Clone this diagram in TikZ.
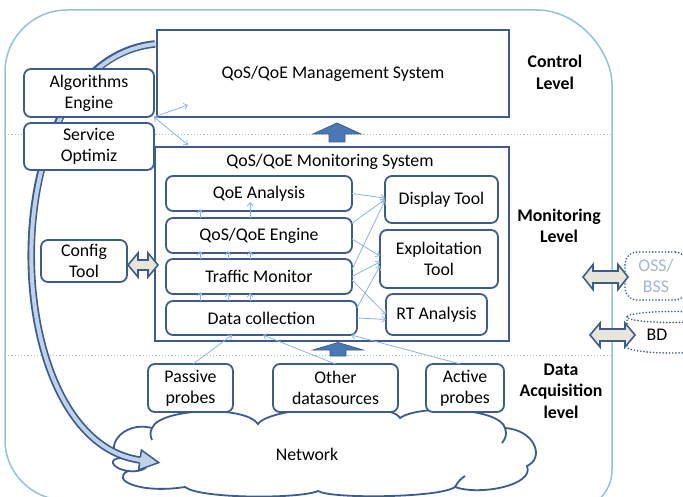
\documentclass[tikz,border=0pt]{standalone}
\usepackage{fontspec}
\setmainfont{Carlito}
\usetikzlibrary{arrows.meta,calc}
\definecolor{dblue}{HTML}{3D5C8C}
\definecolor{frameblue}{HTML}{93C3D3}
\definecolor{dotblue}{HTML}{A9C1DC}
\definecolor{thinblue}{HTML}{8DB3E2}
\definecolor{lightfill}{HTML}{BED3E8}
\definecolor{blockfill}{HTML}{4A78B5}
\definecolor{beige}{HTML}{E8E5DB}
\definecolor{greytext}{HTML}{A3B5D3}
\newcommand{\DblArr}[4]{%
  \draw[dblarr] (#1) -- ($(#1)+(10,-#3)$) -- ($(#1)+(10,-#4)$) -- ($(#2)+(-10,-#4)$) -- ($(#2)+(-10,-#3)$) -- (#2) -- ($(#2)+(-10,#3)$) -- ($(#2)+(-10,#4)$) -- ($(#1)+(10,#4)$) -- ($(#1)+(10,#3)$) -- cycle;}
\begin{document}
\begin{tikzpicture}[x=1pt,y=-1pt,
  every node/.style={font=\fontsize{17.8}{21}\selectfont, inner sep=0pt, outer sep=0pt},
  sqbox/.style={draw=dblue, line width=1.8pt, fill=white},
  rbox/.style={draw=dblue, line width=1.8pt, fill=white, rounded corners=7pt, align=center},
  lvl/.style={font=\fontsize{17.8}{21.5}\selectfont\bfseries, align=center},
  thinarr/.style={draw=thinblue, line width=0.8pt, -{Straight Barb[length=3.5pt,width=6pt]}},
  thinarrb/.style={draw=thinblue, line width=0.8pt, {Straight Barb[length=3.5pt,width=6pt]}-{Straight Barb[length=3.5pt,width=6pt]}},
  dblarr/.style={draw=dblue, line width=1.6pt, fill=beige, line join=miter},
  blockarr/.style={draw=dblue, line width=0.8pt, fill=blockfill},
  levelline/.style={draw=dotblue, line width=1pt, dash pattern=on 1.2pt off 2pt},
  dotborder/.style={draw=dblue, line width=1.8pt, line cap=round, dash pattern=on 0pt off 3.2pt},
  cloudline/.style={draw=dblue, line width=1.8pt}
]
\useasboundingbox (0,0) rectangle (683,497);
% outer frame
\draw[frameblue, line width=1.5pt] (67,10) -- (537,10) .. controls (578.4,10) and (612,51.4) .. (612,85)
  -- (612,470) .. controls (612,492) and (594,510) .. (572,510)
  -- (65,500) .. controls (31.9,500) and (5,473) .. (5,440)
  -- (5,72) .. controls (5,37.8) and (32.8,10) .. (67,10) -- cycle;
% level separators
\draw[levelline] (5,135) -- (612,135);
\draw[levelline] (5,355) -- (612,355);
% network cloud
\draw[cloudline, fill=white] (122,458) .. controls (102,450) and (122,420) .. (152,428)
  .. controls (160,408) and (245,405) .. (258,424)
  .. controls (270,406) and (390,400) .. (400,418)
  .. controls (420,404) and (500,408) .. (505,428)
  .. controls (535,430) and (545,458) .. (527,466)
  .. controls (535,485) and (480,496) .. (455,487)
  .. controls (440,498) and (330,499) .. (318,491)
  .. controls (300,499) and (200,499) .. (185,487)
  .. controls (140,494) and (110,480) .. (128,471)
  .. controls (110,468) and (108,458) .. (122,458) -- cycle;
\draw[cloudline] (152,428) .. controls (150,432) and (150,436) .. (152,440);
\draw[cloudline] (505,428) .. controls (507,434) and (506,438) .. (502,443);
\draw[cloudline] (455,487) .. controls (458,482) and (460,479) .. (465,476);
\draw[cloudline] (128,471) .. controls (135,472) and (140,471) .. (146,468);
\node (nettext) at (307,454) {Network};
% curved arrow from management to network
\draw[dblue, line width=7.5pt] (155,44) .. controls (-10,60) and (-5,440) .. (140,460);
\draw[lightfill, line width=4pt] (156,44) .. controls (-10,60) and (-5,440) .. (140,460);
\fill[lightfill] (140.5,456.5) -- (141.4,450.1) -- (158.8,462.6) -- (138.6,469.9) -- (139.5,463.5) -- cycle;
\draw[dblue, line width=1.5pt, line join=miter] (140.4,457.3) -- (141.4,450.1) -- (158.8,462.6) -- (138.6,469.9) -- (139.6,462.7);
% main boxes
\node[sqbox, minimum width=352, minimum height=87] (mgmt) at (333,73.5) {QoS/QoE Management System};
\node[sqbox, minimum width=354, minimum height=194] (mon) at (332,244) {};
\node (montitle) at (330,162) {QoS/QoE Monitoring System};
% left boxes
\node[rbox, minimum width=130, minimum height=48] (algo) at (89,93) {Algorithms\\Engine};
\node[rbox, minimum width=130, minimum height=47] (serv) at (89,146.5) {Service\\Optimiz};
\node[rbox, minimum width=86, minimum height=42] (config) at (84,261) {Config\\Tool};
% monitoring inner boxes
\node[rbox, minimum width=186, minimum height=35] (qoea) at (259,193.5) {QoE Analysis};
\node[rbox, minimum width=186, minimum height=35] (eng) at (259,235.5) {QoS/QoE Engine};
\node[rbox, minimum width=186, minimum height=35] (traf) at (259,276.5) {Traffic Monitor};
\node[rbox, minimum width=191, minimum height=34] (datac) at (261.5,318) {Data collection};
\node[rbox, minimum width=113, minimum height=47] (disp) at (441.5,199.5) {Display Tool};
\node[rbox, minimum width=118, minimum height=58] (expl) at (439,259) {Exploitation\\Tool};
\node[rbox, minimum width=101, minimum height=41] (rt) at (436.5,314.5) {RT Analysis};
% probes
\node[rbox, minimum width=85, minimum height=48] (passive) at (190.5,388) {Passive\\probes};
\node[rbox, minimum width=125, minimum height=48] (other) at (335.5,388) {Other\\datasources};
\node[rbox, minimum width=78, minimum height=48] (active) at (465,388) {Active\\probes};
% level labels
\node[lvl] (lctrl) at (555,72.5) {Control\\Level};
\node[lvl] (lmon) at (559,226) {Monitoring\\Level};
\node[lvl] (lacq) at (561,391) {Data\\Acquisition\\level};
% external systems
\node[dotborder, rounded corners=12pt, minimum width=62, minimum height=48, text=greytext, align=center] (oss) at (656,276) {OSS/\\BSS};
\draw[dotborder] (672,317) ellipse [x radius=45, y radius=5.5];
\draw[dotborder] (627,317) -- (627,347) .. controls (627,350.3) and (647.2,353) .. (672,353) .. controls (696.8,353) and (717,350.3) .. (717,347) -- (717,317);
\node (bd) at (657,335) {BD};
% thin arrows: control level
\draw[thinarr] (algo.south east) -- ($(mgmt.south west)+(31,-12)$);
\draw[thinarrb] (algo.south east) -- ($(mon.north west)+(33,-2)$);
% vertical arrows inside monitoring system
\coordinate (w1) at ($(qoea.south west)!0.183!(qoea.south east)$);
\coordinate (w3) at ($(qoea.south west)!0.452!(qoea.south east)$);
\coordinate (u1) at ($(eng.south west)!0.183!(eng.south east)$);
\coordinate (u2) at ($(eng.south west)!0.333!(eng.south east)$);
\coordinate (u3) at ($(eng.south west)!0.452!(eng.south east)$);
\coordinate (v1) at ($(traf.south west)!0.183!(traf.south east)$);
\coordinate (v2) at ($(traf.south west)!0.333!(traf.south east)$);
\coordinate (v3) at ($(traf.south west)!0.452!(traf.south east)$);
\draw[thinarr] (w1 |- eng.north) -- ($(w1)+(0,-2)$);
\draw[thinarr] (w3 |- eng.north) -- ($(w3)+(0,-9)$);
\draw[thinarr] (u1 |- traf.north) -- ($(u1)+(0,-2)$);
\draw[thinarr] (u2 |- traf.north) -- ($(u2)+(0,-2)$);
\draw[thinarr] (u3 |- traf.north) -- ($(u3)+(0,-2)$);
\draw[thinarr] (v1 |- datac.north) -- ($(v1)+(0,-2)$);
\draw[thinarr] (v2 |- datac.north) -- ($(v2)+(0,-1)$);
\draw[thinarr] (v3 |- datac.north) -- ($(v3)+(0,-1)$);
% fan arrows to tools
\draw[thinarr] ($(qoea.north east)!0.5!(qoea.south east)$) -- ($(disp.north west)!0.47!(disp.south west)$);
\draw[thinarr] ($(eng.north east)!0.15!(eng.south east)$) -- ($(disp.north west)!0.5!(disp.south west)$);
\draw[thinarr] ($(eng.north east)!0.6!(eng.south east)$) -- ($(expl.north west)!0.45!(expl.south west)$);
\draw[thinarr] ($(traf.north east)!0.3!(traf.south east)$) -- ($(disp.north west)!0.52!(disp.south west)$);
\draw[thinarr] ($(traf.north east)!0.5!(traf.south east)$) -- ($(expl.north west)!0.55!(expl.south west)$);
\draw[thinarr] ($(traf.north east)!0.6!(traf.south east)$) -- ($(rt.north west)!0.5!(rt.south west)$);
\draw[thinarr] ($(datac.north east)!0.2!(datac.south east)$) -- ($(expl.north west)!0.62!(expl.south west)$);
\draw[thinarr] ($(datac.north east)!0.5!(datac.south east)$) -- ($(rt.north west)!0.62!(rt.south west)$);
% probe arrows
\draw[thinarr] ($(passive.north west)!0.53!(passive.north east)$) -- ($(datac.south west)!0.346!(datac.south east)$);
\draw[thinarr] (other.north) -- ($(datac.south west)!0.508!(datac.south east)$);
\draw[thinarr] ($(active.north west)!0.44!(active.north east)$) -- ($(datac.south west)!0.97!(datac.south east)$);
% block up arrows
\draw[blockarr] (337,123) -- (361,134) -- (345,134) -- (345,142) -- (329,142) -- (329,134) -- (313,134) -- cycle;
\draw[blockarr] (338,342.5) -- (363,350) -- (346,350) -- (346,356) -- (330,356) -- (330,350) -- (313,350) -- cycle;
% double block arrows
\coordinate (cfl) at ($(config.east)+(1,4)$);
\coordinate (cfr) at ($(mon.west |- cfl)+(3,0)$);
\DblArr{cfl}{cfr}{12}{5}
\coordinate (osl) at ($(oss.west)+(-42,1)$);
\coordinate (osr) at ($(oss.west)+(3,1)$);
\DblArr{osl}{osr}{12.5}{6}
\coordinate (bdl) at (590,335);
\coordinate (bdr) at (635,335);
\DblArr{bdl}{bdr}{12}{6}
\end{tikzpicture}
\end{document}
